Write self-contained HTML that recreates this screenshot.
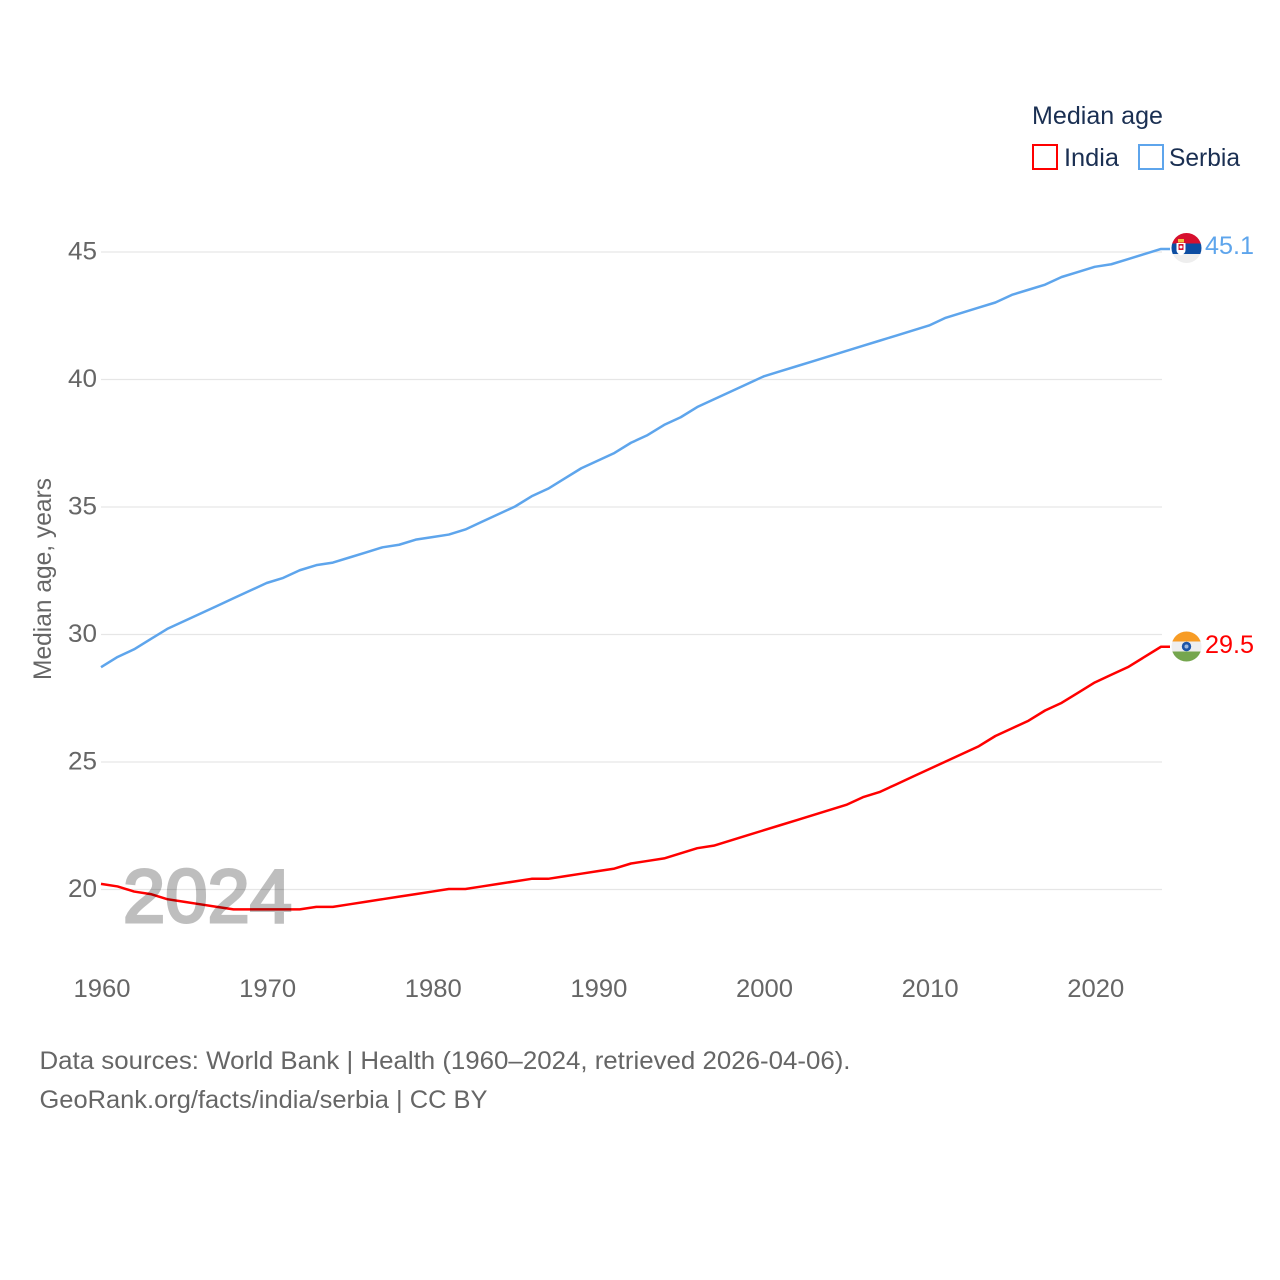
<!DOCTYPE html>
<html lang="en">
<head>
<meta charset="utf-8">
<title>Median age: India and Serbia</title>
<style>
html,body{margin:0;padding:0;background:#fff;width:1280px;height:1280px;overflow:hidden}
svg{display:block}
text{font-family:"Liberation Sans",sans-serif}
</style>
</head>
<body>
<svg id="chart" width="1280" height="1280" viewBox="0 0 1280 1280" xmlns="http://www.w3.org/2000/svg">
  <defs>
    <clipPath id="clip-serbia"><circle cx="1186.5" cy="248" r="15"/></clipPath>
    <clipPath id="clip-india"><circle cx="1186.5" cy="646.5" r="15"/></clipPath>
  </defs>
  <rect width="1280" height="1280" fill="#fff"/>
  <g id="grid"></g>
  <g id="ylabels"></g>
  <g id="xlabels"></g>
  <text transform="translate(51,680) rotate(-90)" font-size="25" fill="#666" textLength="202" lengthAdjust="spacingAndGlyphs">Median age, years</text>
  <g id="series"></g>
  <text x="123" y="922" font-size="75" font-weight="400" fill="#000" stroke="#000" stroke-width="3" opacity="0.25" textLength="169" lengthAdjust="spacingAndGlyphs">2024</text>

  <g clip-path="url(#clip-serbia)">
    <rect x="1171" y="233" width="31" height="10.5" fill="#d7102e"/>
    <rect x="1171" y="243.5" width="31" height="10.5" fill="#0c4da2"/>
    <rect x="1171" y="254" width="31" height="10" fill="#eeeeee"/>
    <path d="M1176.5 243h9v7c0 3-2.500 4.500-4.500 5.500-2-1-4.500-2.500-4.500-5.500z" fill="#fff"/>
    <rect x="1178.500" y="244" width="5" height="6" fill="#d7102e"/>
    <rect x="1178" y="239" width="6" height="3.500" fill="#f0c040"/>
    <circle cx="1181" cy="247" r="1.500" fill="#fff"/>
  </g>
  <g clip-path="url(#clip-india)">
    <rect x="1171" y="631" width="31" height="10.500" fill="#f79c25"/>
    <rect x="1171" y="641.500" width="31" height="10" fill="#eeeeee"/>
    <rect x="1171" y="651.500" width="31" height="10.500" fill="#75a64e"/>
    <circle cx="1186.500" cy="646.500" r="4.700" fill="#1d55a8"/>
    <circle cx="1186.500" cy="646.500" r="2" fill="#9db8de"/>
  </g>

  <text x="1205" y="254" font-size="25" fill="#5ea5ec" textLength="49" lengthAdjust="spacingAndGlyphs">45.1</text>
  <text x="1205" y="653" font-size="25" fill="#ff0000" textLength="49" lengthAdjust="spacingAndGlyphs">29.5</text>

  <text x="1032" y="124" font-size="25" fill="#1a2f52" textLength="131" lengthAdjust="spacingAndGlyphs">Median age</text>
  <g>
    <rect x="1033" y="145" width="24" height="24" fill="#fff" stroke="#ff0000" stroke-width="2"/>
    <text x="1064" y="166" font-size="25" fill="#1a2f52" textLength="55" lengthAdjust="spacingAndGlyphs">India</text>
  </g>
  <g>
    <rect x="1139" y="145" width="24" height="24" fill="#fff" stroke="#5ea5ec" stroke-width="2"/>
    <text x="1169" y="166" font-size="25" fill="#1a2f52" textLength="71" lengthAdjust="spacingAndGlyphs">Serbia</text>
  </g>

  <text x="39.500" y="1069" font-size="25" fill="#666" textLength="811" lengthAdjust="spacingAndGlyphs">Data sources: World Bank | Health (1960–2024, retrieved 2026-04-06).</text>
  <text x="39.500" y="1108" font-size="25" fill="#666" textLength="448" lengthAdjust="spacingAndGlyphs">GeoRank.org/facts/india/serbia | CC BY</text>
</svg>
<script>
const years = [1960,1961,1962,1963,1964,1965,1966,1967,1968,1969,1970,1971,1972,1973,1974,1975,1976,1977,1978,1979,1980,1981,1982,1983,1984,1985,1986,1987,1988,1989,1990,1991,1992,1993,1994,1995,1996,1997,1998,1999,2000,2001,2002,2003,2004,2005,2006,2007,2008,2009,2010,2011,2012,2013,2014,2015,2016,2017,2018,2019,2020,2021,2022,2023,2024];
const serbiaValues = [28.7,29.1,29.4,29.8,30.2,30.5,30.8,31.1,31.4,31.7,32.0,32.2,32.5,32.7,32.8,33.0,33.2,33.4,33.5,33.7,33.8,33.9,34.1,34.4,34.7,35.0,35.4,35.7,36.1,36.5,36.8,37.1,37.5,37.8,38.2,38.5,38.9,39.2,39.5,39.8,40.1,40.3,40.5,40.7,40.9,41.1,41.3,41.5,41.7,41.9,42.1,42.4,42.6,42.8,43.0,43.3,43.5,43.7,44.0,44.2,44.4,44.5,44.7,44.9,45.1];
const indiaValues = [20.2,20.1,19.9,19.8,19.6,19.5,19.4,19.3,19.2,19.2,19.2,19.2,19.2,19.3,19.3,19.4,19.5,19.6,19.7,19.8,19.9,20.0,20.0,20.1,20.2,20.3,20.4,20.4,20.5,20.6,20.7,20.8,21.0,21.1,21.2,21.4,21.6,21.7,21.9,22.1,22.3,22.5,22.7,22.9,23.1,23.3,23.6,23.8,24.1,24.4,24.7,25.0,25.3,25.6,26.0,26.3,26.6,27.0,27.3,27.7,28.1,28.4,28.7,29.1,29.5];
const yTicks = [20,25,30,35,40,45];
const xTicks = [1960,1970,1980,1990,2000,2010,2020];

const NS = 'http://www.w3.org/2000/svg';
function xScale(year){ return 101 + (year - 1960) * (1161 - 101) / 64; }
function yScale(v){ return 889.5 - (v - 20) * 25.5; }

const grid = document.getElementById('grid');
const ylabels = document.getElementById('ylabels');
const xlabels = document.getElementById('xlabels');
const seriesGroup = document.getElementById('series');

yTicks.forEach(function(t){
  const line = document.createElementNS(NS, 'line');
  
  
  line.setAttribute('x1', 101);
  line.setAttribute('x2', 1162);
  line.setAttribute('y1', yScale(t));
  line.setAttribute('y2', yScale(t));
  line.setAttribute('stroke', '#e6e6e6');
  line.setAttribute('stroke-width', '1.300');
  grid.appendChild(line);

  const label = document.createElementNS(NS, 'text');
  
  
  label.setAttribute('x', 68);
  label.setAttribute('y', yScale(t) + 7.500);
  label.setAttribute('font-size', '25');
  label.setAttribute('fill', '#666');
  label.setAttribute('textLength', '29');
  label.setAttribute('lengthAdjust', 'spacingAndGlyphs');
  label.textContent = t;
  ylabels.appendChild(label);
});

xTicks.forEach(function(t){
  const label = document.createElementNS(NS, 'text');
  
  
  label.setAttribute('x', xScale(t) - 27.500);
  label.setAttribute('y', 997);
  label.setAttribute('font-size', '25');
  label.setAttribute('fill', '#666');
  label.setAttribute('textLength', '57');
  label.setAttribute('lengthAdjust', 'spacingAndGlyphs');
  label.textContent = t;
  xlabels.appendChild(label);
});

function drawSeries(values, color, name){
  let d = '';
  values.forEach(function(v, i){
    d += (i ? 'L' : 'M') + xScale(years[i]).toFixed(2) + ' ' + (yScale(v) - 0.500).toFixed(2);
  });
  d += 'H' + (xScale(years[years.length - 1]) + 9).toFixed(2);
  const path = document.createElementNS(NS, 'path');
  
  
  path.setAttribute('d', d);
  path.setAttribute('fill', 'none');
  path.setAttribute('stroke', color);
  path.setAttribute('stroke-width', '2.500');
  path.setAttribute('stroke-linejoin', 'round');
  seriesGroup.appendChild(path);
}
drawSeries(serbiaValues, '#5ea5ec', 'serbia-line');
drawSeries(indiaValues, '#ff0000', 'india-line');
</script>
</body>
</html>
